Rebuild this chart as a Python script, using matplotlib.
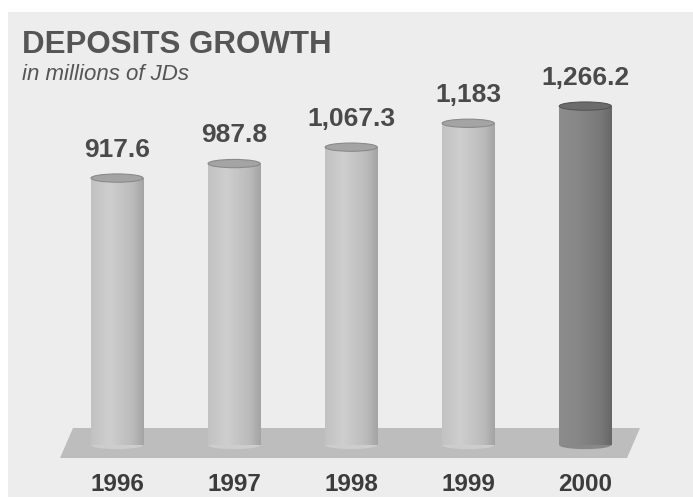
import matplotlib.pyplot as plt
import numpy as np
from matplotlib.patches import Ellipse, Polygon

years = ['1996', '1997', '1998', '1999', '2000']
deposits = [917.6, 987.8, 1067.3, 1183.0, 1266.2]
value_labels = ['917.6', '987.8', '1,067.3', '1,183', '1,266.2']

plt.rcParams['font.family'] = ['Liberation Sans', 'DejaVu Sans']

fig = plt.figure(figsize=(6.93, 4.97), dpi=100)
fig.patch.set_facecolor('white')
ax = fig.add_axes([0, 0, 1, 1])
ax.set_xlim(-1.0, 4.92)
ax.set_ylim(-627, 1780)
ax.axis('off')

# light grey page behind the chart
px_y = lambda p: 1780 - p * (1780 + 627) / 497.0
px_x = lambda p: -1.0 + p * 5.92 / 693.0
ax.add_patch(Polygon([(px_x(8), px_y(497)), (px_x(693), px_y(497)),
                      (px_x(693), px_y(12)), (px_x(8), px_y(12))],
                     closed=True, facecolor='#ededed', edgecolor='none', zorder=0))

base = px_y(445)
floor = [(px_x(73), px_y(428)), (px_x(640), px_y(428)),
         (px_x(627), px_y(458)), (px_x(60), px_y(458))]
ax.add_patch(Polygon(floor, closed=True, facecolor='#bdbdbd',
                     edgecolor='none', zorder=1))

width = 0.445
cap_h = 40
light = dict(stops=[0.0, 0.35, 0.8, 1.0],
             shades=[0.76, 0.81, 0.73, 0.64], top='#a4a4a4')
dark = dict(stops=[0.0, 0.35, 0.8, 1.0],
            shades=[0.55, 0.53, 0.47, 0.40], top='#6c6c6c')

for i, v in enumerate(deposits):
    st = dark if i == len(deposits) - 1 else light
    xs = np.linspace(0, 1, 200)
    g = np.interp(xs, st['stops'], st['shades'])
    img = np.dstack([g, g, g]).reshape(1, -1, 3)
    ax.imshow(img, extent=[i - width / 2, i + width / 2, base, v],
              aspect='auto', zorder=2, interpolation='bilinear')
    bot = Ellipse((i, base), width, cap_h, facecolor=(g[60],) * 3,
                  edgecolor='none', zorder=1.9)
    ax.add_patch(bot)
    top = Ellipse((i, v), width, cap_h, facecolor=st['top'],
                  edgecolor='#8a8a8a' if st is light else '#555555',
                  linewidth=0.8, zorder=3)
    ax.add_patch(top)
    ax.text(i, v + 80, value_labels[i], ha='center', va='bottom',
            fontsize=19, fontweight='bold', color='#4a4a4a', zorder=4)
    ax.text(i, px_y(473), years[i], ha='center', va='top',
            fontsize=17.5, fontweight='bold', color='#3c3c3c', zorder=4)

ax.set_xlim(-1.0, 4.92)
ax.set_ylim(-627, 1780)
fig.text(22 / 693, 1 - 45 / 497, 'DEPOSITS GROWTH', ha='left', va='center',
         fontsize=22.5, fontweight='bold', color='#555555')
fig.text(22 / 693, 1 - 75 / 497, 'in millions of JDs', ha='left', va='center',
         fontsize=16, fontstyle='italic', color='#555555')

fig.savefig('out.png', dpi=100)
